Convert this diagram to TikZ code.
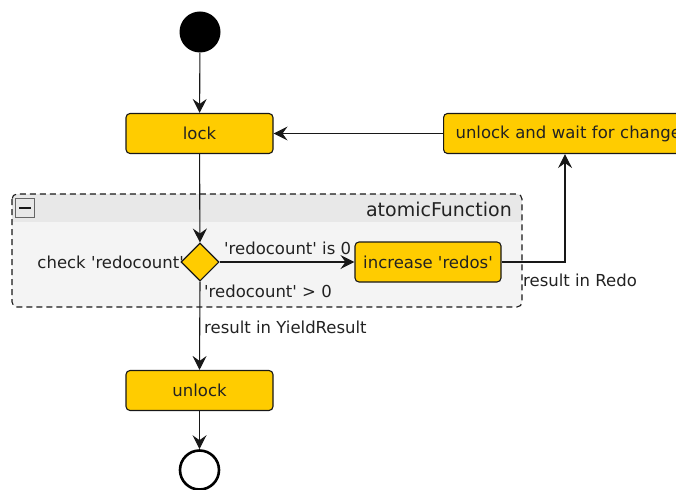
\documentclass[tikz,border=0pt]{standalone}
\usepackage{fontspec}
\setmainfont{DejaVu Sans}
\usetikzlibrary{shapes.geometric,arrows.meta}
\definecolor{actfill}{HTML}{FFCC00}
\definecolor{actline}{HTML}{181818}
\definecolor{grpbody}{HTML}{F4F4F4}
\definecolor{grphead}{HTML}{E8E8E8}
\definecolor{txtcol}{HTML}{222222}
\newcommand{\sq}{\textquotesingle}
\begin{document}
\begin{tikzpicture}[x=1pt,y=-1pt,
  lbl/.style={font=\fontsize{16.5}{19}\selectfont, text=txtcol, inner sep=0pt},
  act/.style={draw=actline, fill=actfill, rounded corners=4pt, line width=1.1pt,
    minimum width=147pt, minimum height=40pt, inner sep=0pt,
    font=\fontsize{16.5}{19}\selectfont, text=txtcol},
  flow/.style={draw=actline, line width=1.1pt, -{Stealth[length=14pt,width=14pt,inset=5pt]}}
]
\useasboundingbox (0,0) rectangle (676,489);
\clip (0,0) rectangle (676,489);

% group
\begin{scope}
  \clip[rounded corners=5pt] (12,194) rectangle (522,307);
  \fill[grpbody] (12,194) rectangle (522,307);
  \fill[grphead] (12,194) rectangle (522,222);
\end{scope}
\draw[rounded corners=5pt, line width=1.1pt, draw=actline, dash pattern=on 6pt off 4pt] (12,194) rectangle (522,307);
\node[draw=gray!80!black, line width=0.8pt, minimum size=19pt, inner sep=0pt, fill=grphead] (minusbox) at (25,208) {};
\draw[line width=2pt, draw=actline] ([xshift=-6pt]minusbox.center) -- ([xshift=6pt]minusbox.center);
\node[font=\fontsize{19}{22}\selectfont, text=txtcol, inner sep=0pt, anchor=east] (title) at (512,209) {atomicFunction};

% nodes
\node[circle, fill=black, minimum size=41pt, inner sep=0pt] (start) at (200,32) {};
\node[act] (lock) at (199.5,133.5) {lock};
\node[act, anchor=west, minimum width=260pt, text width=240pt, align=left, inner xsep=12pt] (wait) at (443,133.5) {unlock and wait for change};
\node[diamond, draw=actline, fill=actfill, line width=1.1pt, minimum width=38pt, minimum height=38pt, inner sep=0pt] (dia) at (200,262) {};
\node[act, minimum width=146pt] (inc) at (428,262) {increase \sq redos\sq};
\node[act] (unlock) at (199.5,390.5) {unlock};
\node[circle, draw=black, line width=2.6pt, fill=white, minimum size=39pt, inner sep=0pt] (end) at (199.5,470) {};

% connectors
\draw[flow] (start) -- (lock);
\draw[flow] (lock) -- (dia);
\draw[flow] (dia.east) -- (inc.west);
\draw[flow] (dia.south) -- (unlock.north);
\draw[flow] (unlock) -- (end);
\coordinate (redoturn) at (565,262);
\draw[flow] (inc.east) -- (redoturn) -- (redoturn |- wait.south);
\draw[flow] (wait.west) -- (lock.east);

% labels
\node[lbl, anchor=east] (chk) at (184,262) {check \sq redocount\sq};
\node[lbl, anchor=west] (is0) at (224,248) {\sq redocount\sq{} is 0};
\node[lbl, anchor=west] (gt0) at (204,291) {\sq redocount\sq{} > 0};
\node[lbl, anchor=west] (yield) at (204,327) {result in YieldResult};
\node[lbl, anchor=west] (redo) at (523,280) {result in Redo};
\end{tikzpicture}
\end{document}
